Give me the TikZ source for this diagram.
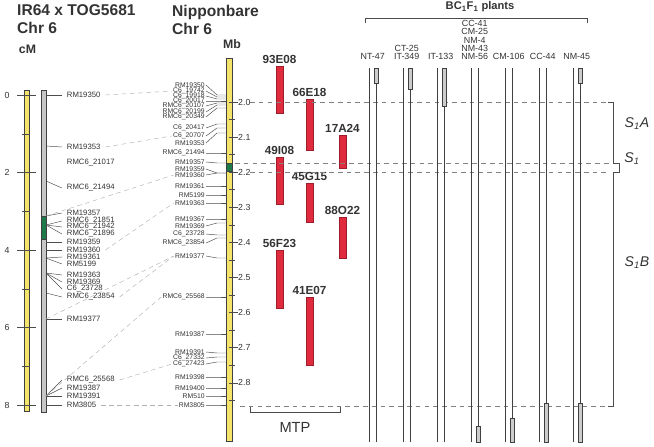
\documentclass[tikz,border=0pt]{standalone}
\usepackage{fontspec}
\setmainfont{Liberation Sans}
\definecolor{chryellow}{HTML}{F4E46C}
\definecolor{chrgrey}{HTML}{C6C6C6}
\definecolor{segred}{HTML}{E02A3E}
\definecolor{seggreen}{HTML}{1E7A4A}
\definecolor{txt}{HTML}{333333}
\tikzset{
  title/.style={anchor=west,align=left,inner sep=0pt,text=txt,font=\fontsize{13.3}{15.4}\selectfont\bfseries},
  unit/.style={inner sep=0pt,text=txt,font=\fontsize{10.5}{11}\selectfont\bfseries},
  chrom/.style={draw=black!75,line width=0.5pt},
  lmark/.style={anchor=west,inner xsep=4pt,inner ysep=0pt,text=txt,font=\fontsize{6.6}{6.6}\selectfont},
  nmark/.style={anchor=east,inner xsep=1pt,inner ysep=0pt,text=txt,font=\fontsize{5.8}{5.8}\selectfont},
  ticklab/.style={inner sep=0pt,text=txt,font=\fontsize{7.5}{7.5}\selectfont},
  lead/.style={draw=black!70,line width=0.4pt},
  link/.style={draw=black!30,dash pattern=on 4pt off 3pt,line width=0.4pt},
  level/.style={draw=black!50,dash pattern=on 4pt off 3.5pt,line width=0.5pt},
  bac/.style={fill=segred,draw=segred!70!black,line width=0.3pt},
  baclabel/.style={anchor=base,inner sep=0pt,text=txt,font=\fontsize{10}{10}\selectfont\bfseries},
  plant/.style={draw=black!75,line width=0.6pt},
  seg/.style={fill=black!20,draw=black!75,line width=0.5pt},
  plantname/.style={anchor=south,align=center,inner sep=0pt,text=txt,font=\fontsize{7.6}{6.9}\selectfont},
  regionlab/.style={inner sep=0pt,text=txt,font=\fontsize{12}{12}\selectfont\itshape},
}
\begin{document}
\begin{tikzpicture}[x=0.03cm,y=-0.03cm]
\useasboundingbox (0,0) rectangle (654,446);
% titles
\node[title] (cross) at (17,19.5) {IR64 x TOG5681\\Chr 6};
\node[title] (nip) at (172,19.5) {Nipponbare\\Chr 6};
\node[unit] (cm) at (27.5,49) {cM};
\node[unit] (mb) at (232,44) {Mb};

% genetic map
\filldraw[chrom,fill=chryellow] (24.5,90) rectangle (29.5,411);
\filldraw[chrom,fill=chrgrey] (41,90) rectangle (46,412);
\filldraw[chrom,fill=seggreen] (41,216) rectangle (46,239);
\foreach \c in {0,2,4,6,8} {
  \draw[lead] (17,95+38.75*\c) -- (36,95+38.75*\c);
  \node[ticklab] (cm\c) at (7,95+38.75*\c) {\c};
}
\foreach \c in {1,3,5,7}
  \draw[lead] (22,95+38.75*\c) -- (29.5,95+38.75*\c);
\node[lmark] (l0) at (62,163) {RMC6\_21017};
\foreach \t/\ly/\by [count=\i] in {RM19350/95/95, RM19353/147/146, RMC6\_21494/188/181,
    RM19357/213/216, RMC6\_21851/221/225, RMC6\_21942/227/225, RMC6\_21896/234/225,
    RM19359/242/242, RM19360/250/250, RM19361/257/258, RM5199/264/258,
    RM19363/275/273, RM19369/282/273, C6\_23728/289/273, RMC6\_23854/297/293,
    RM19377/319/319, RMC6\_25568/380/396, RM19387/388/396, RM19391/396/396, RM3805/405/405} {
  \node[lmark] (l\i) at (62,\ly) {\t};
  \draw[lead] (46,\by) -- (l\i.west);
}

% physical map
\filldraw[chrom,fill=chryellow] (226,58) rectangle (232.5,441);
\filldraw[chrom,fill=seggreen] (226,163) rectangle (232.5,171);
\foreach \k in {0,...,8} {
  \draw[lead] (229,102+35.1*\k) -- (238,102+35.1*\k);
  \node[ticklab,anchor=west] (mb\k) at (238,102+35.1*\k) {2.\k};
  \draw[lead] (229,119.5+35.1*\k) -- (235,119.5+35.1*\k);
}
\foreach \t/\ly/\by [count=\i] in {RM19350/85/95, C6\_19742/91/97, C6\_19918/96/99,
    C6\_20017/101/101, RMC6\_20107/106/103, RMC6\_20199/112/105, RMC6\_20349/117/108,
    C6\_20417/128/124, C6\_20707/136/128, RM19353/143/133, RMC6\_21494/153/153,
    RM19357/162/163, RM19359/169/173, RM19360/175/173, RM19361/186/186, RM5199/195/195,
    RM19363/203/203, RM19367/219/219, RM19369/226/223, C6\_23728/234/235,
    RMC6\_23854/243/238, RM19377/256/258, RMC6\_25568/297/297, RM19387/334/334,
    RM19391/352/353, C6\_27332/358/357, C6\_27423/364/362, RM19398/377/377,
    RM19400/388/388, RM510/396/396, RM3805/405/405} {
  \node[nmark] (n\i) at (206,\ly) {\t};
  \draw[lead] (n\i.east) -- (217,\by) -- (226,\by);
}

% links between the two maps
\draw[link] (l1.east) -- (n2.west);
\draw[link] (l2.east) -- (n9.west);
\draw[link] (46,216) -- (n14.west);
\draw[link] (l9.east) -- (n17.west);
\draw[link] (l15.east) -- (n22.west);
\draw[link] (46,319) -- (n22.west);
\draw[link] (46,396) -- (n23.west);
\draw[link] (l17.east) -- (n27.west);
\draw[link] (l20.east) -- (n31.west);

% BAC clones
\foreach \nm/\x/\ya/\yb in {93E08/279.5/66/113, 66E18/309.5/99/150, 17A24/342.5/135/168,
    49I08/279.5/157/204, 45G15/309.5/183/222, 88O22/342.5/217/258,
    56F23/279.5/250/308, 41E07/309.5/297/365} {
  \filldraw[bac] (\x-3.5,\ya) rectangle (\x+3.5,\yb);
  \node[baclabel] (b\nm) at (\x,\ya-3) {\nm};
}
\draw[lead,line width=0.6pt] (250,407) -- (250,412) -- (340,412) -- (340,407);
\node[inner sep=0pt,text=txt,font=\fontsize{12.5}{12.5}\selectfont] (mtp) at (295,427) {MTP};

% interval lines
\draw[level] (250,102) -- (610,102);
\draw[level] (235,163) -- (610,163);
\draw[level] (250,172) -- (610,172);
\draw[level] (240,406) -- (610,406);

% BC1F1 plants
\draw[lead,line width=0.6pt] (365,23) -- (365,18) -- (587,18) -- (587,23);
\node[inner sep=0pt,text=txt,font=\fontsize{9.5}{9.5}\selectfont\bfseries] (bc) at (480,7) {BC\textsubscript{1}F\textsubscript{1} plants};
\foreach \nm [count=\i from 0] in {NT-47, {CT-25\\IT-349}, IT-133, {CC-41\\CM-25\\NM-4\\NM-43\\NM-56},
    CM-106, CC-44, NM-45} {
  \node[plantname] (p\i) at (372.7+34*\i,59.5) {\nm};
  \draw[plant] (369.3+34*\i,68) -- (369.3+34*\i,442);
  \draw[plant] (376+34*\i,68) -- (376+34*\i,442);
}
\foreach \i/\ya/\yb in {0/68/83, 1/68/89, 2/68/106, 6/68/83, 3/426/442, 4/418/442, 5/403/442, 6/403/442}
  \filldraw[seg] (376+34*\i-2.2,\ya) rectangle (376+34*\i+2.2,\yb);

% regions
\draw[lead,line width=0.6pt] (608,102) -- (613,102) -- (613,163) -- (619,163) -- (619,172)
  -- (613,172) -- (613,406) -- (608,406);
\node[regionlab] (s1a) at (637,124) {S\textsubscript{1}A};
\node[regionlab] (s1) at (632,159) {S\textsubscript{1}};
\node[regionlab] (s1b) at (637,263) {S\textsubscript{1}B};
\end{tikzpicture}
\end{document}
